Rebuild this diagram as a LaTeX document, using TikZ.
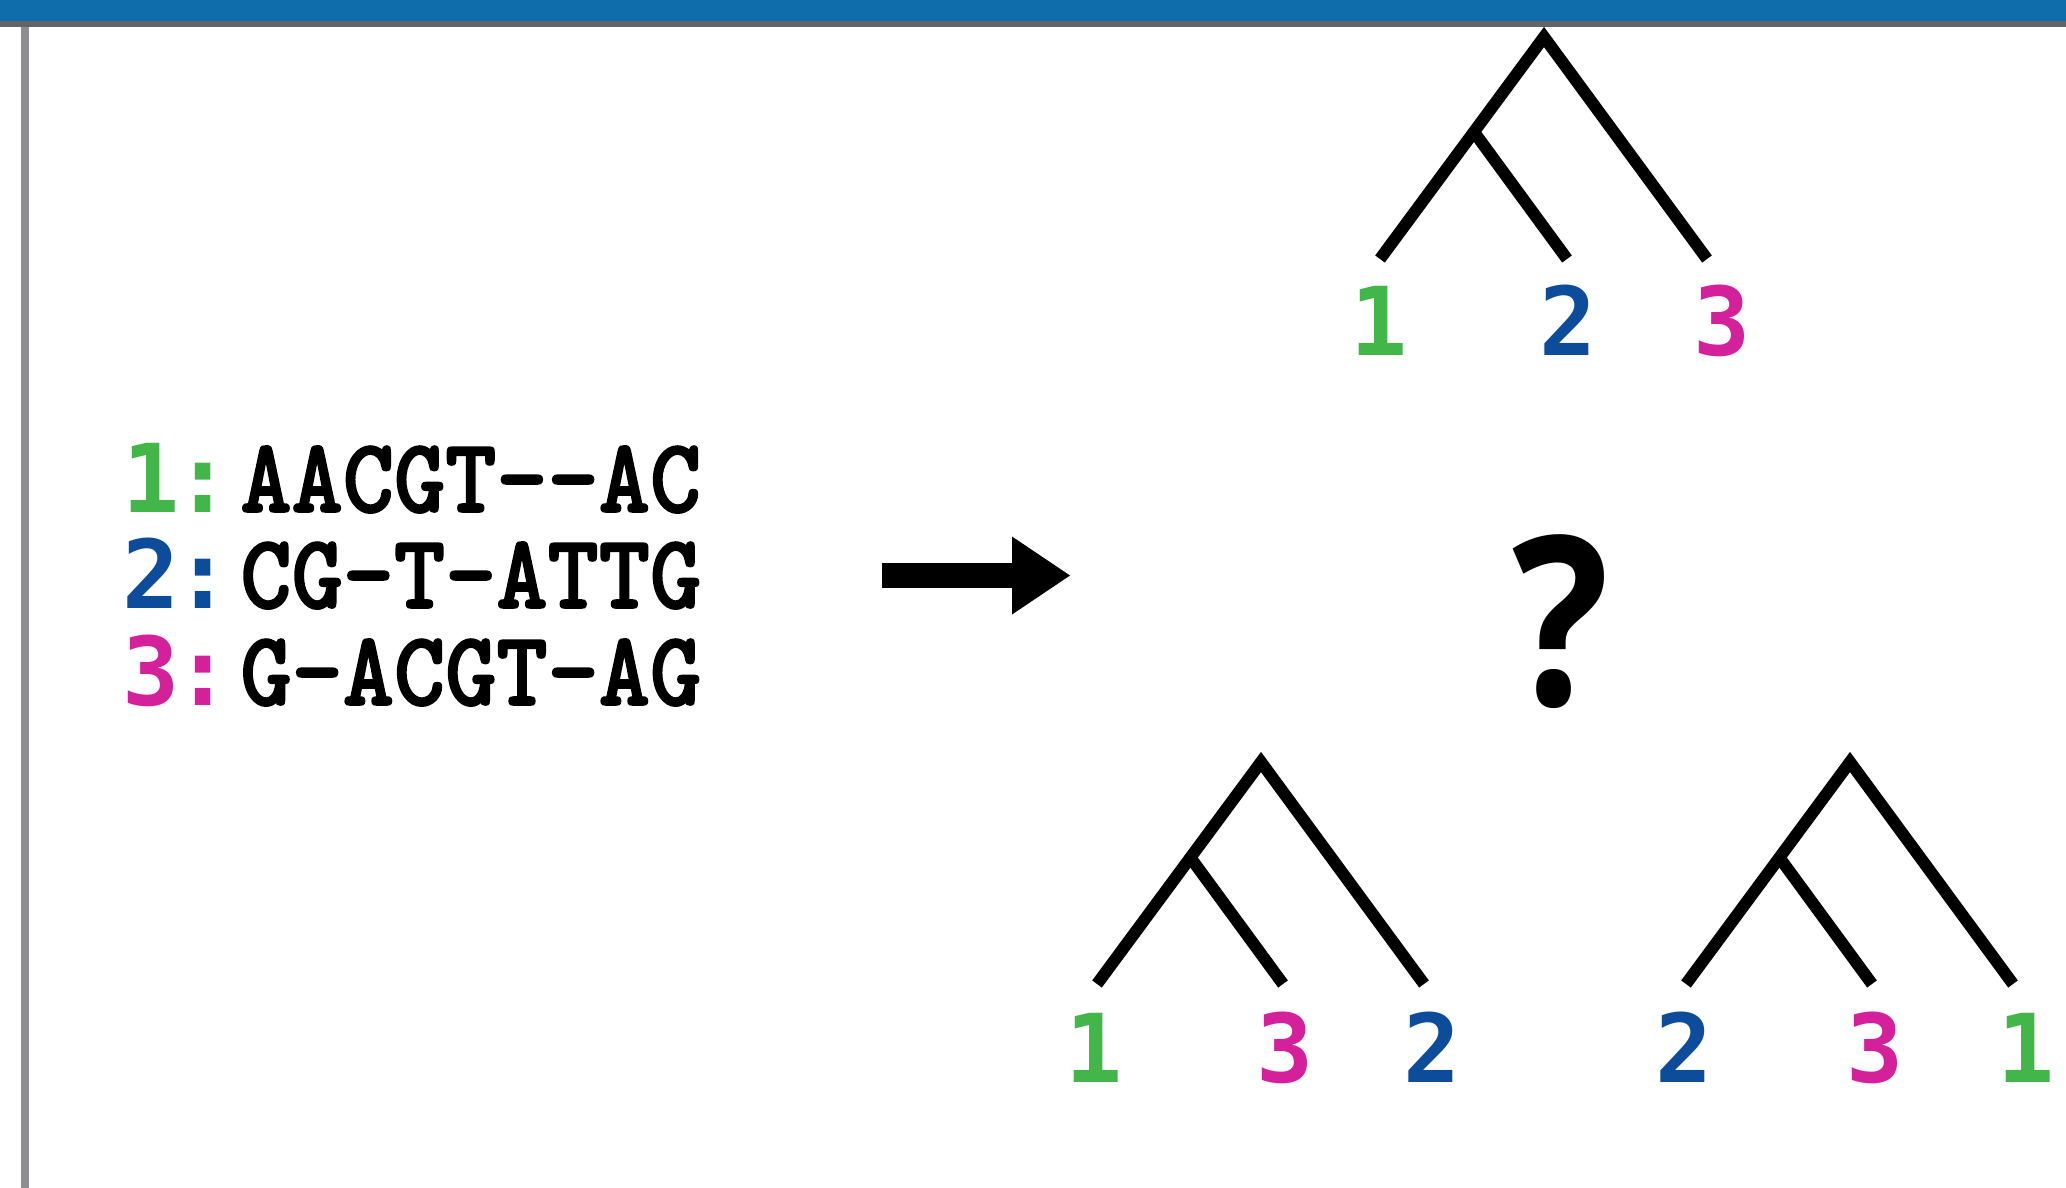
\documentclass[tikz,border=0pt]{standalone}
\usepackage{fontspec}
\usetikzlibrary{arrows.meta}
\newfontfamily\seqfont[FakeStretch=0.92,FakeBold=1.6]{lmmonolt10-bold.otf}
\newfontfamily\digfont{DejaVu Sans Mono}
\newfontfamily\qfont[FakeStretch=0.86]{Open Sans}
\definecolor{cgreen}{HTML}{43B649}
\definecolor{cblue}{HTML}{0C4C9B}
\definecolor{cmag}{HTML}{D5209B}
\definecolor{bandblue}{HTML}{0E6DAA}
\definecolor{bandgray}{HTML}{646464}
\definecolor{bargray}{HTML}{8E8E92}
\tikzset{
  seqtext/.style={anchor=base west, inner sep=0pt, font=\seqfont\fontsize{53pt}{53pt}\selectfont},
  digit/.style={anchor=base, inner sep=0pt, font=\digfont\bfseries\fontsize{47.5pt}{47.5pt}\selectfont},
  branch/.style={line width=6pt, line join=miter, line cap=butt},
  bigarrow/.style={line width=12.5pt, -{Triangle[length=29pt,width=39pt,line width=0pt]}},
  qmark/.style={anchor=base, inner sep=0pt, font=\qfont\bfseries\fontsize{118pt}{118pt}\selectfont}
}
\begin{document}
\begin{tikzpicture}[x=0.5pt,y=-0.5pt]
\useasboundingbox (0,0) rectangle (2066,1188);
% frame
\fill[bandblue] (0,0) rectangle (2066,21);
\fill[bandgray] (0,21) rectangle (2066,27);
\fill[bargray] (21,27) rectangle (29,1188);
% alignment
\node[digit, text=cgreen] (d1) at (151,512) {1};
\node[digit, text=cgreen] (c1) at (203,512) {:};
\node[seqtext] (s1) at (240,512) {AACGT--AC};
\node[digit, text=cblue] (d2) at (151,608) {2};
\node[digit, text=cblue] (c2) at (203,608) {:};
\node[seqtext] (s2) at (240,608) {CG-T-ATTG};
\node[digit, text=cmag] (d3) at (151,705) {3};
\node[digit, text=cmag] (c3) at (203,705) {:};
\node[seqtext] (s3) at (240,705) {G-ACGT-AG};
% arrow
\coordinate (arrS) at (882,575.5);
\coordinate (arrE) at (1070,575.5);
\draw[bigarrow] (arrS) -- (arrE);
% question mark
\node[qmark] (q) at (1561,705) {?};
% top tree
\coordinate (ta) at (1544,37);
\coordinate (ti) at (1474,132);
\coordinate (tl1) at (1380,259);
\coordinate (tl2) at (1567,259);
\coordinate (tl3) at (1707,259);
\draw[branch] (tl1) -- (ta) -- (tl3);
\draw[branch] (ti) -- (tl2);
\node[digit, text=cgreen] (tn1) at (1379,355) {1};
\node[digit, text=cblue] (tn2) at (1568,355) {2};
\node[digit, text=cmag] (tn3) at (1722,355) {3};
% bottom-left tree
\coordinate (la) at (1261,762);
\coordinate (li) at (1190,857);
\coordinate (ll1) at (1097,984);
\coordinate (ll2) at (1283,984);
\coordinate (ll3) at (1424,984);
\draw[branch] (ll1) -- (la) -- (ll3);
\draw[branch] (li) -- (ll2);
\node[digit, text=cgreen] (ln1) at (1094,1082) {1};
\node[digit, text=cmag] (ln2) at (1285,1082) {3};
\node[digit, text=cblue] (ln3) at (1432,1082) {2};
% bottom-right tree
\coordinate (ra) at (1850,762);
\coordinate (ri) at (1779,857);
\coordinate (rl1) at (1686,984);
\coordinate (rl2) at (1872,984);
\coordinate (rl3) at (2013,984);
\draw[branch] (rl1) -- (ra) -- (rl3);
\draw[branch] (ri) -- (rl2);
\node[digit, text=cblue] (rn1) at (1684,1082) {2};
\node[digit, text=cmag] (rn2) at (1875,1082) {3};
\node[digit, text=cgreen] (rn3) at (2026,1082) {1};
\end{tikzpicture}
\end{document}
